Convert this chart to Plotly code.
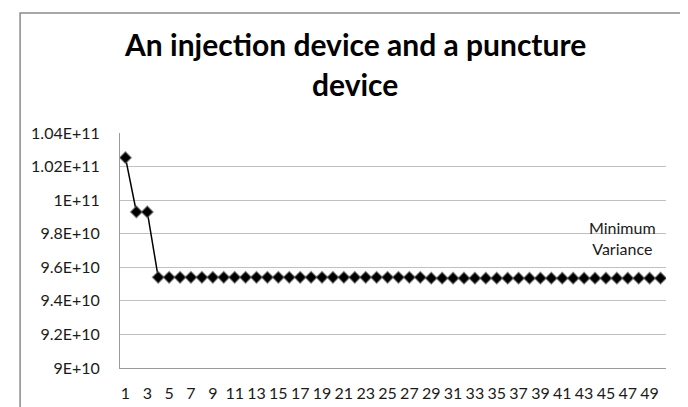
import plotly.graph_objects as go

iterations = list(range(1, 51))
min_variance = [1.0253e11, 9.93e10, 9.93e10] + [9.54e10] * 25 + [9.535e10] * 22

y_tickvals = [9.0e10, 9.2e10, 9.4e10, 9.6e10, 9.8e10, 1.0e11, 1.02e11, 1.04e11]
y_ticktext = ["9E+10", "9.2E+10", "9.4E+10", "9.6E+10", "9.8E+10", "1E+11", "1.02E+11", "1.04E+11"]
x_tickvals = list(range(1, 51, 2))

title_line1 = "An injection device and a puncture"
title_line2 = "device"
series_name = "Minimum<br>Variance"

fig = go.Figure()
fig.add_trace(go.Scatter(
    x=iterations, y=min_variance, mode="lines+markers",
    line=dict(color="black", width=1.5),
    marker=dict(symbol="diamond", size=9, color="black",
                line=dict(color="rgba(110,110,110,0.6)", width=1.4)),
    showlegend=False,
))

fig.update_layout(
    width=688, height=407,
    margin=dict(l=112, r=30, t=125, b=47),
    paper_bgcolor="white", plot_bgcolor="white",
    font=dict(family="Lato", size=16, color="#1a1a1a"),
    xaxis=dict(range=[0.5, 50.5], tickvals=x_tickvals, ticktext=[str(v) for v in x_tickvals],
               showgrid=False, showline=True, linecolor="#9a9a9a", linewidth=1,
               ticks="", ticklabelstandoff=11, zeroline=False,
               tickfont=dict(family="Lato", size=16, color="#1a1a1a")),
    yaxis=dict(range=[9.0e10, 1.04e11], tickvals=y_tickvals, ticktext=y_ticktext,
               showgrid=True, gridcolor="#c0c0c0", gridwidth=1,
               showline=True, linecolor="#9a9a9a", linewidth=1,
               ticks="", ticklabelstandoff=16, zeroline=False,
               tickfont=dict(family="Lato", size=16, color="#1a1a1a")),
    shapes=[dict(type="rect", xref="paper", yref="paper",
                 x0=-0.183, x1=1.044, y0=-0.3, y1=1.511,
                 line=dict(color="#8a8a8a", width=1.5), fillcolor="rgba(0,0,0,0)", layer="below")],
    annotations=[
        dict(text="<b>" + title_line1 + "</b>", xref="paper", yref="paper", x=0.43, y=1.379,
             xanchor="center", yanchor="middle", showarrow=False,
             font=dict(family="Lato", size=30, color="black")),
        dict(text="<b>" + title_line2 + "</b>", xref="paper", yref="paper", x=0.43, y=1.208,
             xanchor="center", yanchor="middle", showarrow=False,
             font=dict(family="Lato", size=30, color="black")),
        dict(text=series_name, xref="paper", yref="paper", x=0.921, y=0.553,
             xanchor="center", yanchor="middle", showarrow=False, align="center",
             font=dict(family="Lato", size=16, color="#1a1a1a")),
    ],
)

fig.write_html("out.html")
